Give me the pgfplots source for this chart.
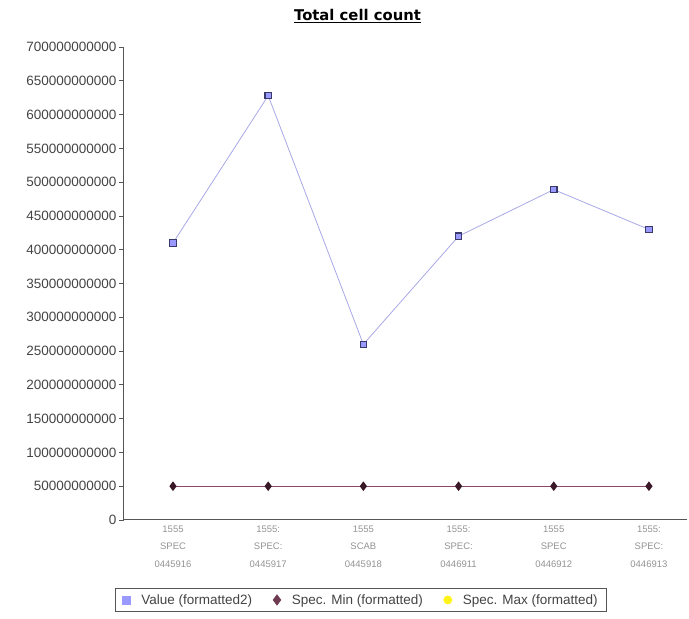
\documentclass[border=0pt]{standalone}
\usepackage{pgfplots}
\pgfplotsset{compat=1.18}
\usepackage{fontspec}
\setmainfont{Liberation Sans}
\newfontfamily\titlefont{DejaVu Sans}
\definecolor{valline}{HTML}{A8A8E8}
\definecolor{valfill}{HTML}{9999FF}
\definecolor{valdraw}{HTML}{3A3A6A}
\definecolor{minline}{HTML}{8A4A66}
\definecolor{minmark}{HTML}{3A1828}
\definecolor{axgray}{HTML}{555555}
\definecolor{txtgray}{HTML}{444444}
\begin{document}
\begin{tikzpicture}[x=1pt,y=1pt]
\path[use as bounding box] (0,0) rectangle (689,619);
\node[font=\titlefont\fontsize{14.8}{17}\selectfont\bfseries] at (357.5,603) {\underline{Total cell count}};
\begin{axis}[
  at={(124pt,99pt)}, anchor=south west,
  scale only axis, width=563pt, height=473pt,
  xmin=-0.515, xmax=5.4,
  ymin=0, ymax=700000000000,
  axis x line=bottom, axis y line=left,
  axis line style={axgray, -, line width=1pt},
  ytick={0,50000000000,100000000000,150000000000,200000000000,250000000000,300000000000,350000000000,400000000000,450000000000,500000000000,550000000000,600000000000,650000000000,700000000000},
  scaled y ticks=false,
  /pgf/number format/fixed, /pgf/number format/precision=0, /pgf/number format/1000 sep={}, /pgf/number format/assume math mode=true,
  yticklabel style={font=\fontsize{13.5}{15}\selectfont, text=txtgray, xshift=1pt},
  ytick style={axgray, line width=0.8pt},
  tick align=outside,
  major tick length=5pt,
  xtick={0,1,2,3,4,5},
  x tick style={draw=none},
  xticklabels={{1555\\SPEC\\0445916},{1555:\\SPEC:\\0445917},{1555\\SCAB\\0445918},{1555:\\SPEC:\\0446911},{1555\\SPEC\\0446912},{1555:\\SPEC:\\0446913}},
  xticklabel style={align=center, font=\fontsize{9.5}{17.5}\selectfont, text=gray!85, yshift=3pt},
  legend style={at={(0.421,-0.169)}, anchor=center, legend columns=-1, draw=axgray, line width=0.8pt, font=\fontsize{13.5}{15}\selectfont, inner ysep=4pt, inner xsep=7pt, text=txtgray, /tikz/every even column/.append style={column sep=19pt}, /tikz/every odd column/.append style={column sep=9pt}},
  clip=false,
]
\addplot[valline, line width=0.8pt, mark=square*, mark size=3.2pt, mark options={fill=valfill, draw=valdraw, line width=1.2pt}, forget plot]
  coordinates {(0,410000000000) (1,628000000000) (2,260000000000) (3,420000000000) (4,489000000000) (5,430000000000)};
\addplot[minline, line width=1pt, mark=diamond*, mark size=4pt, mark options={fill=minmark, draw=minmark}, forget plot]
  coordinates {(0,50000000000) (1,50000000000) (2,50000000000) (3,50000000000) (4,50000000000) (5,50000000000)};
\addlegendimage{only marks, mark=square*, mark size=4pt, mark options={fill=valfill, draw=valfill}}
\addlegendentry{Value (formatted2)}
\addlegendimage{only marks, mark=diamond*, mark size=5pt, mark options={fill=minline!80!black, draw=minline!80!black}}
\addlegendentry{Spec. Min (formatted)}
\addlegendimage{only marks, mark=*, mark size=4pt, mark options={fill=yellow!90!white, draw=yellow!90!white}}
\addlegendentry{Spec. Max (formatted)}
\end{axis}
\end{tikzpicture}
\end{document}
